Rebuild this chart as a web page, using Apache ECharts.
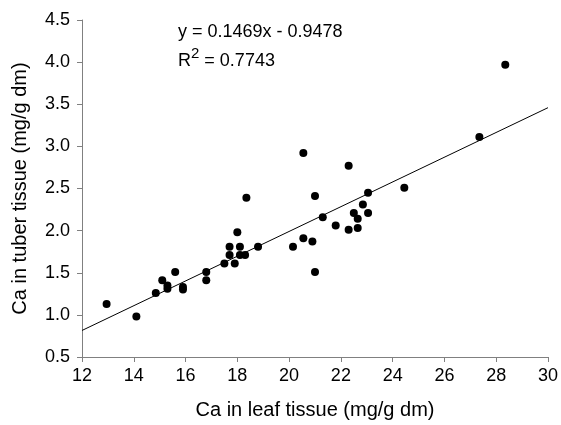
<!DOCTYPE html>
<html>
<head>
<meta charset="utf-8">
<script src="https://cdn.jsdelivr.net/npm/echarts@6/dist/echarts.min.js"></script>
<style>html,body{margin:0;padding:0;background:#fff}#c{width:561px;height:425px}</style>
</head>
<body>
<div id="c"></div>
<script>
// Ca in leaf tissue (mg/g dm)
const leafCa = [12.95, 14.1, 14.85, 15.1, 15.3, 15.3, 15.6, 15.9, 15.9, 16.8, 16.8, 17.5, 17.7, 17.7, 17.9, 18.0, 18.1, 18.1, 18.3, 18.35, 18.8, 20.15, 20.55, 20.55, 20.9, 21.0, 21.0, 21.3, 21.8, 22.3, 22.3, 22.5, 22.65, 22.65, 22.85, 23.05, 23.05, 24.45, 27.35, 28.35];
// Ca in tuber tissue (mg/g dm)
const tuberCa = [1.13, 0.98, 1.26, 1.41, 1.35, 1.31, 1.51, 1.33, 1.30, 1.51, 1.41, 1.61, 1.71, 1.81, 1.61, 1.98, 1.81, 1.71, 1.71, 2.39, 1.81, 1.81, 2.92, 1.91, 1.87, 2.41, 1.51, 2.16, 2.06, 2.77, 2.01, 2.21, 2.14, 2.03, 2.31, 2.45, 2.21, 2.51, 3.11, 3.97];
// linear trend line shown on chart
const slope = 0.1469;
const intercept = -0.9478;
const rSquared = 0.7743;
const xRange = [12, 30];
const yRange = [0.5, 4.5];

const points = leafCa.map((x, i) => [x, tuberCa[i]]);
const trend = xRange.map(x => [x, slope * x + intercept]);

const FONT = 'Liberation Sans, Arial, sans-serif';
const axisColor = '#808080';

const chart = echarts.init(document.getElementById('c'), null, {renderer: 'canvas'});
chart.setOption({
  animation: false,
  backgroundColor: '#fff',
  grid: {left: 82, right: 11, top: 20, bottom: 68, containLabel: false},
  xAxis: {
    type: 'value', min: xRange[0], max: xRange[1], interval: 2,
    name: 'Ca in leaf tissue (mg/g dm)', nameLocation: 'middle', nameGap: 43,
    nameTextStyle: {fontFamily: FONT, fontSize: 20, color: '#000'},
    axisLine: {show: true, lineStyle: {color: axisColor, width: 1}},
    axisTick: {show: true, length: 5, lineStyle: {color: axisColor}},
    axisLabel: {fontFamily: FONT, fontSize: 18, color: '#000', margin: 10},
    splitLine: {show: false}
  },
  yAxis: {
    type: 'value', min: yRange[0], max: yRange[1], interval: 0.5,
    name: 'Ca in tuber tissue (mg/g dm)', nameLocation: 'middle', nameGap: 52,
    nameTextStyle: {fontFamily: FONT, fontSize: 20, color: '#000'},
    axisLine: {show: true, lineStyle: {color: axisColor, width: 1}},
    axisTick: {show: true, length: 5, lineStyle: {color: axisColor}},
    axisLabel: {fontFamily: FONT, fontSize: 18, color: '#000', margin: 12,
      formatter: v => v.toFixed(1)},
    splitLine: {show: false}
  },
  graphic: [
    {type: 'text', left: 178, top: 23, style: {text: 'y = ' + slope + 'x - ' + Math.abs(intercept), fontFamily: FONT, fontSize: 18, fill: '#000'}},
    {type: 'text', left: 178, top: 46, style: {
      text: '{a|R}{s|2}{a| = ' + rSquared + '}',
      rich: {
        a: {fontFamily: FONT, fontSize: 18, fill: '#000', verticalAlign: 'bottom', lineHeight: 24},
        s: {fontFamily: FONT, fontSize: 15, fill: '#000', verticalAlign: 'top', lineHeight: 24}
      }
    }}
  ],
  series: [
    {type: 'line', data: trend, symbol: 'none', silent: true,
     lineStyle: {color: '#000', width: 1}, z: 1},
    {type: 'scatter', data: points, symbol: 'circle', symbolSize: 8,
     itemStyle: {color: '#000', opacity: 1}, z: 2}
  ]
});
</script>
</body>
</html>
